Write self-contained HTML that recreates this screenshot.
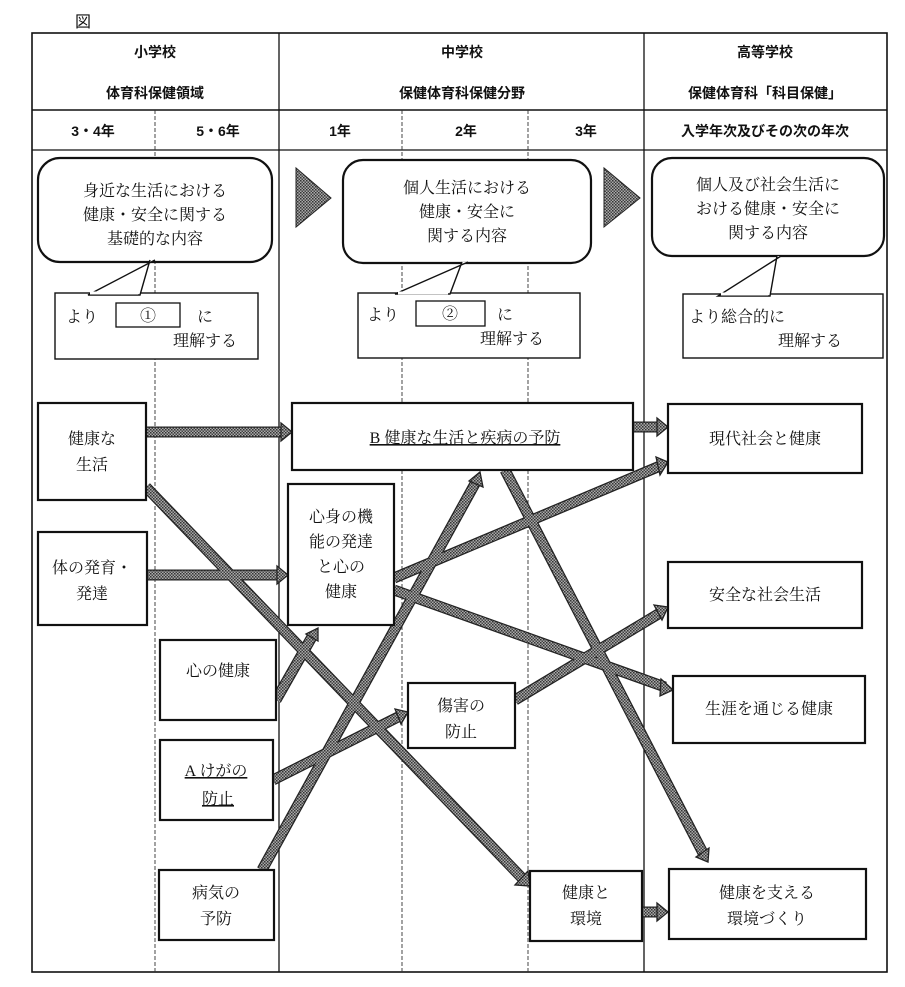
<!DOCTYPE html>
<html><head><meta charset="utf-8"><style>
html,body{margin:0;padding:0;background:#fff;}
svg{display:block;}
text{font-family:"Liberation Serif","Noto Serif CJK SC","Noto Sans CJK JP",serif;fill:#111;}
.s{font-family:"Liberation Sans","Noto Sans CJK JP",sans-serif;}
</style></head><body>
<svg width="905" height="987" viewBox="0 0 905 987" xmlns="http://www.w3.org/2000/svg">
<defs>
<pattern id="h" width="3" height="3" patternUnits="userSpaceOnUse"><rect width="3" height="3" fill="#aaa"/><rect width="1.5" height="1.5" fill="#333"/><rect x="1.5" y="1.5" width="1.5" height="1.5" fill="#444"/></pattern>
</defs>
<text x="75" y="27" font-size="16" class="s">図</text>
<rect x="32" y="33" width="855" height="939" fill="none" stroke="#111" stroke-width="1.6"/>
<line x1="32" y1="110" x2="887" y2="110" stroke="#111" stroke-width="1.4"/>
<line x1="32" y1="150" x2="887" y2="150" stroke="#111" stroke-width="1.2"/>
<line x1="279" y1="33" x2="279" y2="972" stroke="#111" stroke-width="1.3"/>
<line x1="644" y1="33" x2="644" y2="972" stroke="#111" stroke-width="1.3"/>
<line x1="155" y1="110" x2="155" y2="972" stroke="#333" stroke-width="0.9" stroke-dasharray="4,2"/>
<line x1="402" y1="110" x2="402" y2="972" stroke="#333" stroke-width="0.9" stroke-dasharray="4,2"/>
<line x1="528" y1="110" x2="528" y2="972" stroke="#333" stroke-width="0.9" stroke-dasharray="4,2"/>
<g class="s" font-size="14" text-anchor="middle" font-weight="bold">
<text x="155" y="57" class="s">小学校</text>
<text x="155" y="98" class="s">体育科保健領域</text>
<text x="462" y="57" class="s">中学校</text>
<text x="462" y="98" class="s">保健体育科保健分野</text>
<text x="765" y="57" class="s">高等学校</text>
<text x="765" y="98" class="s">保健体育科「科目保健」</text>
<text x="93" y="136" class="s">3・4年</text>
<text x="218" y="136" class="s">5・6年</text>
<text x="340" y="136" class="s">1年</text>
<text x="466" y="136" class="s">2年</text>
<text x="586" y="136" class="s">3年</text>
<text x="765" y="136" class="s">入学年次及びその次の年次</text>
</g>
<g fill="#fff" stroke="#111" stroke-width="2.2">
<rect x="38" y="158" width="234" height="104" rx="22"/>
<rect x="343" y="160" width="248" height="103" rx="20"/>
<rect x="652" y="158" width="232" height="98" rx="20"/>
</g>
<g stroke="#111" stroke-width="1.4" fill="#fff">
<rect x="55" y="293" width="203" height="66"/>
<rect x="358" y="293" width="222" height="65"/>
<rect x="683" y="294" width="200" height="64"/>
<polyline points="155,260 88,295 140,295 150,260"/>
<polyline points="468,262 395,294 450,294 462,262"/>
<polyline points="781,256 718,296 770,296 777,256"/>
</g>
<g stroke="#fff" stroke-width="3"><line x1="90" y1="293" x2="138" y2="293"/><line x1="398" y1="293" x2="448" y2="293"/><line x1="721" y1="294" x2="768" y2="294"/></g>
<rect x="116" y="303" width="64" height="24" fill="#fff" stroke="#111" stroke-width="1.3"/>
<rect x="416" y="301" width="69" height="25" fill="#fff" stroke="#111" stroke-width="1.3"/>
<g font-size="16" text-anchor="middle">
<text x="155" y="196">身近な生活における</text>
<text x="155" y="220">健康・安全に関する</text>
<text x="155" y="244">基礎的な内容</text>
<text x="467" y="193">個人生活における</text>
<text x="467" y="217">健康・安全に</text>
<text x="467" y="241">関する内容</text>
<text x="768" y="190">個人及び社会生活に</text>
<text x="768" y="214">おける健康・安全に</text>
<text x="768" y="238">関する内容</text>
<text x="82" y="322">より</text><text x="148" y="321">①</text><text x="205" y="322">に</text>
<text x="205" y="346">理解する</text>
<text x="383" y="320">より</text><text x="450" y="319">②</text><text x="505" y="320">に</text>
<text x="512" y="344">理解する</text>
<text x="737" y="322">より総合的に</text>
<text x="810" y="346">理解する</text>
</g>
<polygon points="296,168 296,227 331,198" fill="url(#h)" stroke="#222"/>
<polygon points="604,168 604,227 640,198" fill="url(#h)" stroke="#222"/>
<g stroke="#222" stroke-width="11" stroke-linecap="butt">
<line x1="146" y1="432" x2="284" y2="432"/>
<line x1="633" y1="427" x2="660" y2="427"/>
<line x1="147" y1="575" x2="280" y2="575"/>
<line x1="642" y1="912" x2="660" y2="912"/>
<line x1="146" y1="487" x2="522" y2="878"/>
<line x1="276" y1="700" x2="313" y2="635"/>
<line x1="394" y1="578" x2="660" y2="466"/>
<line x1="394" y1="590" x2="665" y2="687"/>
<line x1="273" y1="780" x2="400" y2="716"/>
<line x1="515" y1="700" x2="660" y2="613"/>
<line x1="262" y1="870" x2="477" y2="480"/>
<line x1="505" y1="470" x2="704" y2="855"/>
</g>
<g stroke="url(#h)" stroke-width="8.5">
<line x1="146" y1="432" x2="284" y2="432"/>
<line x1="633" y1="427" x2="660" y2="427"/>
<line x1="147" y1="575" x2="280" y2="575"/>
<line x1="642" y1="912" x2="660" y2="912"/>
<line x1="146" y1="487" x2="522" y2="878"/>
<line x1="276" y1="700" x2="313" y2="635"/>
<line x1="394" y1="578" x2="660" y2="466"/>
<line x1="394" y1="590" x2="665" y2="687"/>
<line x1="273" y1="780" x2="400" y2="716"/>
<line x1="515" y1="700" x2="660" y2="613"/>
<line x1="262" y1="870" x2="477" y2="480"/>
<line x1="505" y1="470" x2="704" y2="855"/>
</g>
<g fill="url(#h)" stroke="#222" stroke-width="1.3">
<polygon points="281,423 292,432 281,441"/>
<polygon points="657,418 668,427 657,436"/>
<polygon points="277,566 288,575 277,584"/>
<polygon points="657,903 668,912 657,921"/>
<polygon points="515,885 530,886 528,871"/>
<polygon points="306,634 318,628 318,641"/>
<polygon points="656,457 668,462 660,475"/>
<polygon points="661,679 673,690 660,696"/>
<polygon points="395,709 408,712 401,724"/>
<polygon points="654,605 668,607 662,620"/>
<polygon points="469,481 480,472 483,487"/>
<polygon points="696,857 708,862 709,848"/>
</g>
<g fill="#fff" stroke="#111" stroke-width="2.2">
<rect x="38" y="403" width="108" height="97"/>
<rect x="38" y="532" width="109" height="93"/>
<rect x="292" y="403" width="341" height="67"/>
<rect x="668" y="404" width="194" height="69"/>
<rect x="288" y="484" width="106" height="141"/>
<rect x="668" y="562" width="194" height="66"/>
<rect x="160" y="640" width="116" height="80"/>
<rect x="673" y="676" width="192" height="67"/>
<rect x="408" y="683" width="107" height="65"/>
<rect x="160" y="740" width="113" height="80"/>
<rect x="159" y="870" width="115" height="70"/>
<rect x="530" y="871" width="112" height="70"/>
<rect x="669" y="869" width="197" height="70"/>
</g>
<g font-size="16" text-anchor="middle">
<text x="92" y="444">健康な</text><text x="92" y="470">生活</text>
<text x="92" y="573">体の発育・</text><text x="92" y="599">発達</text>
<text x="465" y="443" text-decoration="underline">B 健康な生活と疾病の予防</text>
<text x="765" y="444">現代社会と健康</text>
<text x="341" y="522">心身の機</text><text x="341" y="547">能の発達</text><text x="341" y="572">と心の</text><text x="341" y="597">健康</text>
<text x="765" y="600">安全な社会生活</text>
<text x="218" y="676">心の健康</text>
<text x="769" y="714">生涯を通じる健康</text>
<text x="461" y="711">傷害の</text><text x="461" y="737">防止</text>
<text x="216" y="776" text-decoration="underline">A けがの</text><text x="218" y="804" text-decoration="underline">防止</text>
<text x="216" y="898">病気の</text><text x="216" y="924">予防</text>
<text x="586" y="898">健康と</text><text x="586" y="924">環境</text>
<text x="767" y="898">健康を支える</text><text x="767" y="924">環境づくり</text>
</g>
</svg>
</body></html>
